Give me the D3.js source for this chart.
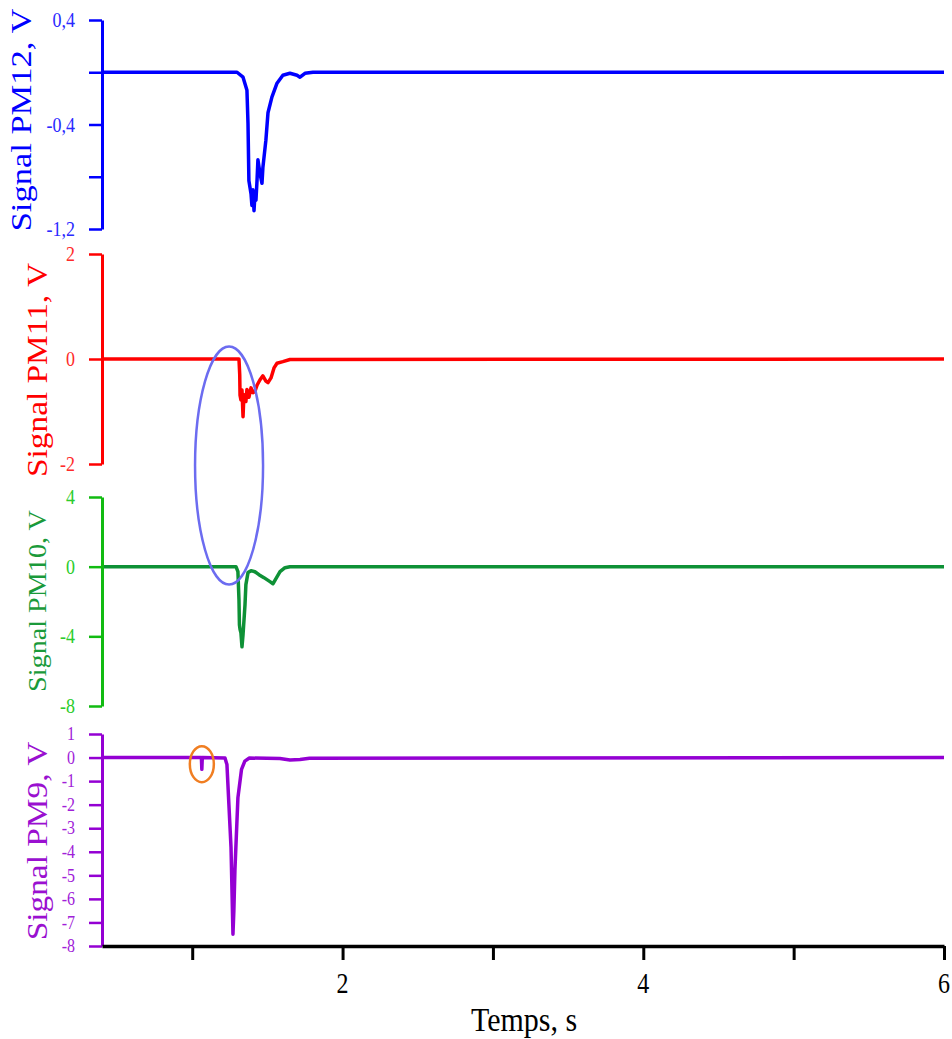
<!DOCTYPE html>
<html><head><meta charset="utf-8">
<script src="https://cdn.jsdelivr.net/npm/d3@7"></script>
<style>body{margin:0;background:#fff}svg{display:block}text{font-family:"Liberation Serif","Times New Roman",serif}</style>
</head><body>
<svg id="c" width="952" height="1039"></svg>
<script>
// ---- data (time in s, signal in V) ----
const pm12T = [0.4, 1.298, 1.338, 1.364, 1.371, 1.377, 1.391, 1.397, 1.404, 1.411, 1.417, 1.424, 1.431, 1.437, 1.45, 1.464, 1.47, 1.49, 1.504, 1.53, 1.564, 1.603, 1.65, 1.697, 1.717, 1.75, 1.803, 6.0];
const pm12V = [0, 0, -0.038, -0.138, -0.39, -0.83, -0.93, -1.02, -0.9, -1.06, -0.94, -0.98, -0.83, -0.67, -0.77, -0.85, -0.73, -0.52, -0.31, -0.19, -0.084, -0.023, -0.008, -0.023, -0.038, -0.008, 0, 0];

const pm11T = [0.4, 1.311, 1.316, 1.318, 1.324, 1.331, 1.338, 1.344, 1.357, 1.364, 1.377, 1.391, 1.404, 1.417, 1.431, 1.45, 1.47, 1.49, 1.504, 1.524, 1.544, 1.564, 1.603, 1.65, 6.0];
const pm11V = [0, 0, -0.3, -0.69, -0.78, -0.59, -1.1, -0.68, -0.81, -0.58, -0.73, -0.55, -0.64, -0.62, -0.5, -0.4, -0.32, -0.42, -0.45, -0.36, -0.17, -0.08, -0.05, -0.01, 0];

const pm10T = [0.4, 1.291, 1.304, 1.311, 1.314, 1.318, 1.324, 1.331, 1.338, 1.351, 1.357, 1.371, 1.391, 1.417, 1.444, 1.477, 1.517, 1.537, 1.557, 1.584, 1.617, 1.65, 6.0];
const pm10V = [0, 0, -0.29, -1.9, -3.33, -3.6, -3.8, -4.6, -3.9, -2.2, -1.03, -0.34, -0.23, -0.29, -0.46, -0.63, -0.86, -0.98, -0.69, -0.29, -0.06, 0, 0];

const pm9T = [0.4, 1.061, 1.064, 1.067, 1.218, 1.231, 1.244, 1.258, 1.271, 1.277, 1.284, 1.304, 1.328, 1.35, 1.38, 1.583, 1.65, 1.717, 1.78, 6.0];
const pm9V = [0, 0, -0.5, 0, -0.02, -0.3, -2.0, -3.8, -7.5, -6.5, -4.8, -1.7, -0.5, -0.15, -0.02, -0.04, -0.1, -0.08, -0.03, 0];

const pm12Ticks = [0.4, 0, -0.4, -0.8, -1.2];
const pm12Labels = ["0,4", "", "-0,4", "", "-1,2"];
const pm11Ticks = [2, 0, -2];
const pm11Labels = ["2", "0", "-2"];
const pm10Ticks = [4, 0, -4, -8];
const pm10Labels = ["4", "0", "-4", "-8"];
const pm9Ticks = [1, 0, -1, -2, -3, -4, -5, -6, -7, -8];
const pm9Labels = ["1", "0", "-1", "-2", "-3", "-4", "-5", "-6", "-7", "-8"];
const timeTicks = [1, 2, 3, 4, 5, 6];
const timeLabels = ["", "2", "", "4", "", "6"];
const panelTitles = ["Signal PM12, V", "Signal PM11, V", "Signal PM10, V", "Signal PM9, V"];
const xTitle = "Temps, s";

// ---- layout ----
const svg = d3.select("#c");
const X0 = 102, X1 = 944;
const x = d3.scaleLinear().domain([0.4, 6]).range([X0, X1]);
const STR = 1.15; // slight vertical stretch of glyphs in the reference

const panels = [
  {t: pm12T, v: pm12V, dom: [-1.2, 0.4], rng: [229, 20], ticks: pm12Ticks, labels: pm12Labels, title: panelTitles[0],
   axis: "#0000ff", line: "#0000ff", tick: "#2a2aff", ttl: "#0000ff", tx: 31, ty: 120, tfs: 30, fs: 18},
  {t: pm11T, v: pm11V, dom: [-2, 2], rng: [464, 254], ticks: pm11Ticks, labels: pm11Labels, title: panelTitles[1],
   axis: "#ff0000", line: "#ff0000", tick: "#ff2a2a", ttl: "#ff0000", tx: 47, ty: 370, tfs: 29, fs: 18},
  {t: pm10T, v: pm10V, dom: [-8, 4], rng: [706, 497], ticks: pm10Ticks, labels: pm10Labels, title: panelTitles[2],
   axis: "#11bb11", line: "#0e9136", tick: "#2ccc2c", ttl: "#1a9a3a", tx: 46, ty: 601, tfs: 24.5, fs: 18},
  {t: pm9T, v: pm9V, dom: [-8, 1], rng: [946, 734], ticks: pm9Ticks, labels: pm9Labels, title: panelTitles[3],
   axis: "#9400d3", line: "#9400d3", tick: "#a020d8", ttl: "#9a10d0", tx: 47, ty: 841, tfs: 29, fs: 16}
];

panels.forEach(p => {
  const y = d3.scaleLinear().domain(p.dom).range(p.rng);
  const g = svg.append("g");
  // data line
  const pts = p.t.map((t, i) => [t, p.v[i]]);
  g.append("path").datum(pts)
    .attr("d", d3.line().x(d => x(d[0])).y(d => y(d[1])))
    .attr("fill", "none").attr("stroke", p.line).attr("stroke-width", 3.5)
    .attr("stroke-linejoin", "round");
  // axis
  const ax = g.append("g").attr("transform", `translate(${X0},0)`)
    .call(d3.axisLeft(y).tickValues(p.ticks).tickSize(13).tickSizeOuter(0).tickFormat(""));
  ax.select(".domain").attr("stroke", p.axis).attr("stroke-width", 3);
  ax.selectAll(".tick line").attr("stroke", p.axis).attr("stroke-width", 2.5);
  // tick labels
  p.ticks.forEach((tv, i) => {
    if (!p.labels[i]) return;
    g.append("text").text(p.labels[i])
      .attr("transform", `translate(75,${y(tv)}) scale(1,${STR})`)
      .attr("text-anchor", "end").attr("dy", "0.34em")
      .attr("font-size", p.fs).attr("fill", p.tick);
  });
  // title
  g.append("text").text(p.title)
    .attr("transform", `translate(${p.tx},${p.ty}) rotate(-90) scale(${STR},1)`)
    .attr("text-anchor", "middle")
    .attr("font-size", p.tfs).attr("fill", p.ttl);
});

// x axis
const xa = svg.append("g").attr("transform", "translate(0,946)")
  .call(d3.axisBottom(x).tickValues(timeTicks).tickSize(14).tickSizeOuter(0).tickFormat(""));
xa.select(".domain").attr("stroke", "#000").attr("stroke-width", 3.5);
xa.selectAll(".tick line").attr("stroke", "#000").attr("stroke-width", 3);
timeTicks.forEach((tv, i) => {
  if (!timeLabels[i]) return;
  svg.append("text").text(timeLabels[i])
    .attr("transform", `translate(${x(tv)},993) scale(1,1.2)`)
    .attr("text-anchor", "middle").attr("font-size", 24).attr("fill", "#000");
});
svg.append("text").text(xTitle)
  .attr("transform", `translate(524,1031) scale(1,${STR})`)
  .attr("text-anchor", "middle").attr("font-size", 30).attr("fill", "#000");

// annotations (ellipses) positioned in data coordinates
const yP11 = d3.scaleLinear().domain([-2, 2]).range([464, 254]);
const yP9 = d3.scaleLinear().domain([-8, 1]).range([946, 734]);
svg.append("ellipse").attr("cx", x(1.245)).attr("cy", yP11(-2.03)).attr("rx", 34).attr("ry", 119)
  .attr("fill", "none").attr("stroke", "#6c6cf0").attr("stroke-width", 2.5);
svg.append("ellipse").attr("cx", x(1.064)).attr("cy", yP9(-0.28)).attr("rx", 12).attr("ry", 18)
  .attr("fill", "none").attr("stroke", "#f07e22").attr("stroke-width", 2.5);
</script>
</body></html>
